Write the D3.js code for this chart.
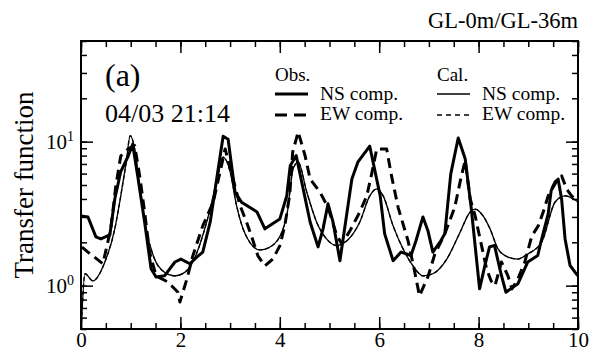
<!DOCTYPE html>
<html>
<head>
<meta charset="utf-8">
<script src="https://cdn.jsdelivr.net/npm/d3@7"></script>
<style>
  body { margin: 0; background: #fff; }
</style>
</head>
<body>
<div id="chart"></div>
<script>
'use strict';

// [frequency (Hz), transfer function]
var obsNS = [
  [0,3.05],[0.14,3.0],[0.3,2.18],[0.4,2.11],[0.58,2.25],[0.68,4.0],[0.8,6.2],[0.95,7.95],[1.04,9.6],
  [1.15,5.5],[1.28,2.77],[1.41,1.31],[1.51,1.15],[1.68,1.17],[1.89,1.46],[2.01,1.53],[2.19,1.42],
  [2.33,1.58],[2.45,1.71],[2.6,2.77],[2.73,5.5],[2.86,10.9],[2.96,10.4],[3.1,4.45],[3.23,3.8],
  [3.54,3.25],[3.7,2.48],[4.0,2.9],[4.14,4.2],[4.21,6.8],[4.33,8.0],[4.61,2.77],[4.77,1.86],
  [4.87,2.48],[4.97,3.7],[5.07,2.77],[5.21,1.49],[5.45,5.5],[5.57,7.2],[5.81,9.3],[6.02,4.2],
  [6.11,2.29],[6.28,1.49],[6.44,1.71],[6.64,1.62],[6.74,2.05],[6.88,3.0],[6.98,2.41],[7.08,1.71],
  [7.24,2.05],[7.32,2.29],[7.44,5.97],[7.59,10.6],[7.73,7.6],[7.85,3.5],[8.02,0.95],[8.12,1.35],
  [8.22,1.86],[8.32,1.9],[8.45,1.21],[8.55,0.9],[8.79,1.03],[8.99,1.46],[9.19,1.62],[9.26,2.05],
  [9.4,3.15],[9.46,4.57],[9.56,5.25],[9.6,5.5],[9.67,4.0],[9.74,2.11],[9.84,1.38],[9.94,1.24],[10,1.17]
];

var obsEW = [
  [0.02,1.85],[0.14,1.71],[0.44,1.42],[0.6,2.48],[0.7,4.9],[0.8,7.95],[0.95,8.9],[1.08,9.4],
  [1.18,5.8],[1.28,3.25],[1.38,1.71],[1.51,1.17],[1.75,1.06],[1.95,0.9],[1.99,0.77],[2.13,1.11],
  [2.25,1.61],[2.45,2.6],[2.66,3.8],[2.8,6.2],[2.9,8.9],[3.06,5.5],[3.2,3.6],[3.33,2.77],[3.43,2.21],
  [3.56,1.61],[3.7,1.37],[3.86,1.53],[4.0,1.89],[4.1,2.6],[4.2,4.3],[4.26,8.5],[4.37,11.7],
  [4.51,7.95],[4.61,5.5],[4.81,4.45],[4.97,3.5],[5.15,2.21],[5.25,1.95],[5.41,2.4],[5.6,3.2],
  [5.75,4.2],[5.85,6.0],[5.95,8.9],[6.15,8.9],[6.24,5.97],[6.38,3.5],[6.58,2.05],[6.71,1.27],
  [6.81,0.85],[6.98,1.15],[7.12,1.66],[7.32,2.29],[7.52,3.5],[7.65,5.7],[7.73,7.4],[7.83,4.0],
  [7.93,3.06],[8.03,2.11],[8.16,1.31],[8.25,1.08],[8.33,1.0],[8.46,1.46],[8.59,1.17],[8.67,0.95],
  [8.79,1.11],[8.93,1.46],[9.07,2.21],[9.2,2.6],[9.3,3.25],[9.4,4.2],[9.54,5.25],[9.67,5.8],
  [9.77,4.7],[9.87,4.2],[10,3.8]
];

var calNS = [
  [0.01,0.55],[0.08,1.21],[0.24,1.08],[0.48,1.46],[0.68,2.48],[0.8,4.2],[0.91,7.2],[0.99,11],
  [1.08,8.9],[1.18,4.9],[1.31,2.48],[1.48,1.53],[1.68,1.24],[1.89,1.17],[2.09,1.24],[2.25,1.46],
  [2.53,2.77],[2.73,5.25],[2.86,7.8],[3.0,6.2],[3.13,3.6],[3.3,2.3],[3.6,1.77],[3.85,1.9],[4.05,2.4],
  [4.14,3.05],[4.27,6.5],[4.37,7.2],[4.54,4.5],[4.74,2.77],[4.94,2.11],[5.14,1.9],[5.35,2.05],
  [5.61,2.77],[5.81,4.2],[5.95,4.7],[6.08,4.2],[6.28,2.6],[6.48,1.8],[6.68,1.37],[6.88,1.17],
  [7.08,1.21],[7.36,1.53],[7.63,2.36],[7.83,3.25],[7.93,3.4],[8.09,3.05],[8.23,2.48],[8.39,1.8],
  [8.59,1.58],[8.79,1.53],[8.99,1.66],[9.27,2.01],[9.54,3.81],[9.74,4.2],[10,3.81]
];

var calEW = [
  [0.01,0.55],[0.08,1.21],[0.24,1.08],[0.48,1.46],[0.68,2.48],[0.8,4.2],[0.91,7.2],[0.99,11],
  [1.08,8.9],[1.18,4.9],[1.31,2.48],[1.48,1.53],[1.68,1.24],[1.89,1.17],[2.09,1.24],[2.25,1.46],
  [2.53,2.77],[2.73,5.25],[2.86,7.8],[3.0,6.2],[3.13,3.6],[3.3,2.3],[3.6,1.77],[3.85,1.9],[4.05,2.4],
  [4.14,3.05],[4.27,6.5],[4.37,7.2],[4.54,4.5],[4.74,2.77],[4.94,2.11],[5.14,1.9],[5.35,2.05],
  [5.61,2.77],[5.81,4.2],[5.95,4.7],[6.08,4.2],[6.28,2.6],[6.48,1.8],[6.68,1.37],[6.88,1.17],
  [7.08,1.21],[7.36,1.53],[7.63,2.36],[7.83,3.25],[7.93,3.4],[8.09,3.05],[8.23,2.48],[8.39,1.8],
  [8.59,1.58],[8.79,1.53],[8.99,1.66],[9.27,2.01],[9.54,3.81],[9.74,4.2],[10,3.81]
];

var xDomain = [0, 10];
var yDomain = [0.5, 50];
var xMajorTicks = [0, 2, 4, 6, 8, 10];
var xMinorTicks = d3.range(0, 10.001, 0.5);
var yMajorTicks = [1, 10];

var labelY = 'Transfer function';
var panelLabel = '(a)';
var eventLabel = '04/03 21:14';
var ratioLabel = 'GL-0m/GL-36m';

var SERIF = '"Liberation Serif", Tinos, "Times New Roman", Times, "DejaVu Serif", serif';

function transferChart()
{
    var scope = {};
    var exports = {};

    scope.margins = {top: 41, right: 20, bottom: 20, left: 81};
    scope.cw = 497;
    scope.ch = 288;

    scope.appendSvg = function(div)
    {
        return d3.select(div).append('svg')
            .attr('width', 598)
            .attr('height', 349)
            .style('font-family', SERIF);
    }

    scope.createScales = function()
    {
        scope.xScale = d3.scaleLinear().domain(xDomain).range([0, scope.cw]);
        scope.yScale = d3.scaleLog().domain(yDomain).range([scope.ch, 0]);
        scope.yMinor = scope.yScale.ticks();
    }

    scope.createAxes = function(chart)
    {
        var x = scope.xScale, y = scope.yScale;

        var bottom = chart.append('g').attr('transform', 'translate(0,' + scope.ch + ')');
        bottom.append('g').call(d3.axisBottom(x).tickValues(xMinorTicks).tickSize(-6).tickFormat(''));
        bottom.append('g').call(d3.axisBottom(x).tickValues(xMajorTicks).tickSize(-12).tickPadding(3).tickFormat(d3.format('d')));

        var top = chart.append('g');
        top.append('g').call(d3.axisTop(x).tickValues(xMinorTicks).tickSize(-6).tickFormat(''));
        top.append('g').call(d3.axisTop(x).tickValues(xMajorTicks).tickSize(-12).tickFormat(''));

        var left = chart.append('g');
        left.append('g').call(d3.axisLeft(y).tickValues(scope.yMinor).tickSize(-6).tickFormat(''));
        left.append('g').call(d3.axisLeft(y).tickValues(yMajorTicks).tickSize(-12).tickFormat(''));

        var right = chart.append('g').attr('transform', 'translate(' + scope.cw + ',0)');
        right.append('g').call(d3.axisRight(y).tickValues(scope.yMinor).tickSize(-6).tickFormat(''));
        right.append('g').call(d3.axisRight(y).tickValues(yMajorTicks).tickSize(-12).tickFormat(''));

        chart.selectAll('.domain').remove();
        chart.selectAll('.tick line').attr('stroke', '#000').attr('stroke-width', 1.5);
        bottom.selectAll('.tick text')
            .style('font-family', SERIF)
            .attr('font-size', 21)
            .attr('fill', '#000');

        // decade labels 10^0, 10^1
        var decade = chart.append('g').selectAll('text')
            .data(yMajorTicks)
            .enter().append('text')
            .style('font-family', SERIF)
            .attr('x', -7)
            .attr('y', function(d) { return y(d) + 7; })
            .attr('text-anchor', 'end')
            .attr('font-size', 21);
        decade.append('tspan').text('10');
        decade.append('tspan')
            .attr('dy', -8)
            .attr('font-size', 14)
            .text(function(d) { return Math.round(Math.log10(d)); });

        chart.append('rect')
            .attr('width', scope.cw)
            .attr('height', scope.ch)
            .attr('fill', 'none')
            .attr('stroke', '#000')
            .attr('stroke-width', 2);
    }

    scope.appendLines = function(chart)
    {
        chart.append('clipPath').attr('id', 'plot-clip')
            .append('rect').attr('width', scope.cw).attr('height', scope.ch);

        var jagged = d3.line()
            .x(function(d) { return scope.xScale(d[0]); })
            .y(function(d) { return scope.yScale(d[1]); });
        var smooth = d3.line()
            .curve(d3.curveMonotoneX)
            .x(function(d) { return scope.xScale(d[0]); })
            .y(function(d) { return scope.yScale(d[1]); });

        var series = [
            {values: calNS, line: smooth, width: 1.3, dash: null},
            {values: calEW, line: smooth, width: 1.3, dash: '4,3'},
            {values: obsEW, line: jagged, width: 3, dash: '10,6'},
            {values: obsNS, line: jagged, width: 3, dash: null}
        ];

        chart.append('g').attr('clip-path', 'url(#plot-clip)')
            .selectAll('path')
            .data(series)
            .enter().append('path')
            .attr('d', function(d) { return d.line(d.values); })
            .attr('fill', 'none')
            .attr('stroke', '#000')
            .attr('stroke-width', function(d) { return d.width; })
            .attr('stroke-dasharray', function(d) { return d.dash; })
            .attr('stroke-linejoin', 'round');
    }

    scope.appendLegend = function(svg)
    {
        var groups = [
            {title: 'Obs.', x: 275, width: 3, dashes: [null, '12,7']},
            {title: 'Cal.', x: 437, width: 1.3, dashes: [null, '5,4']}
        ];
        var comps = ['NS comp.', 'EW comp.'];

        var g = svg.append('g').selectAll('g')
            .data(groups)
            .enter().append('g')
            .attr('transform', function(d) { return 'translate(' + d.x + ',0)'; });

        g.append('text')
            .attr('y', 81)
            .attr('font-size', 19)
            .text(function(d) { return d.title; });

        comps.forEach(function(c, i) {
            g.append('line')
                .attr('x1', 0).attr('x2', 33)
                .attr('y1', 94 + i * 21).attr('y2', 94 + i * 21)
                .attr('stroke', '#000')
                .attr('stroke-width', function(d) { return d.width; })
                .attr('stroke-dasharray', function(d) { return d.dashes[i]; });
            g.append('text')
                .attr('x', 45)
                .attr('y', 100 + i * 20)
                .attr('font-size', 19.5)
                .text(c);
        });
    }

    scope.createLabels = function(svg)
    {
        svg.append('text')
            .attr('transform', 'translate(33,' + (scope.margins.top + 144) + ') rotate(-90)')
            .attr('text-anchor', 'middle')
            .attr('font-size', 27)
            .text(labelY);

        svg.append('text')
            .attr('x', 105).attr('y', 86)
            .attr('font-size', 32)
            .text(panelLabel);

        svg.append('text')
            .attr('x', 105).attr('y', 122)
            .attr('font-size', 26)
            .text(eventLabel);

        svg.append('text')
            .attr('x', 578).attr('y', 28)
            .attr('text-anchor', 'end')
            .attr('font-size', 22.5)
            .text(ratioLabel);
    }

    exports.run = function(div)
    {
        var svg = scope.appendSvg(div);
        var chart = svg.append('g')
            .attr('transform', 'translate(' + scope.margins.left + ',' + scope.margins.top + ')');

        scope.createScales();
        scope.appendLines(chart);
        scope.createAxes(chart);
        scope.appendLegend(svg);
        scope.createLabels(svg);
    }

    return exports;
}

transferChart().run('#chart');
</script>
</body>
</html>
